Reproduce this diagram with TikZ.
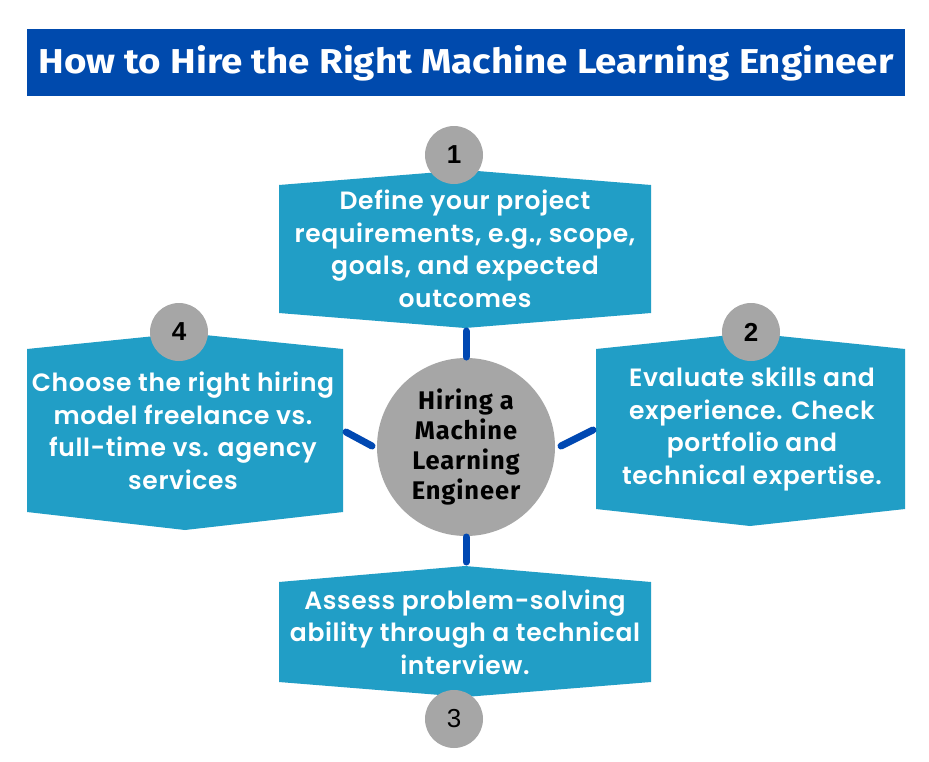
\documentclass[tikz,border=0pt]{standalone}
\usepackage{fontspec}
\setmainfont{Poppins}
\newfontfamily\boxfont{Poppins SemiBold}[LetterSpace=2.5]
\newfontfamily\hubfont{Fira Sans}[LetterSpace=3.5]
\newfontfamily\titlefont{Fira Sans}
\newfontfamily\numfont{Liberation Sans}
\definecolor{titleblue}{RGB}{0,74,173}
\definecolor{boxblue}{RGB}{33,158,198}
\definecolor{disc}{RGB}{166,166,166}
\definecolor{linkblue}{RGB}{0,72,178}
\tikzset{
  boxshape/.style={fill=boxblue},
  boxtext/.style={text=white, align=center, inner sep=0pt,
    font=\boxfont\fontsize{25}{32.5}\selectfont},
  numdisc/.style={circle, fill=disc, minimum size=58pt, inner sep=0pt,
    font=\numfont\fontsize{26}{26}\selectfont\bfseries, text=black},
  hubdisc/.style={circle, fill=disc, minimum size=178pt, inner sep=0pt,
    align=center, font=\hubfont\fontsize{25.5}{30}\selectfont\bfseries, text=black},
  link/.style={draw=linkblue, line width=7pt, line cap=round}
}
\begin{document}
\begin{tikzpicture}[x=1pt,y=-1pt]
\useasboundingbox (0,0) rectangle (929,761);
\fill[white] (0,0) rectangle (929,761);
% title
\fill[titleblue] (27,29) rectangle (905,96);
\node[text=white, inner sep=0pt] (title) at (466,63)
  {\resizebox{855pt}{28pt}{\titlefont\bfseries How to Hire the Right Machine Learning Engineer}};
% boxes
\fill[boxshape] (279,185) -- (465,170) -- (651,185) -- (651,313) -- (465,328) -- (279,313) -- cycle;
\fill[boxshape] (27,349) -- (185,333) -- (343,349) -- (343,512) -- (185,530) -- (27,512) -- cycle;
\fill[boxshape] (596,349) -- (750,333) -- (905,349) -- (905,509) -- (750,526) -- (596,509) -- cycle;
\fill[boxshape] (279,582) -- (465,566) -- (651,582) -- (651,682) -- (465,697) -- (279,682) -- cycle;
\node[boxtext] (t1) at (465,249) {Define your project\\requirements, e.g., scope,\\goals, and expected\\outcomes};
\node[boxtext] (t4) at (183,431) {Choose the right hiring\\model freelance vs.\\full-time vs. agency\\services};
\node[boxtext] (t2) at (752,429) {Evaluate skills and\\experience. Check\\portfolio and\\technical expertise.};
\node[boxtext] (t3) at (465,632) {Assess problem-solving\\ability through a technical\\interview.};
% number discs
\node[numdisc] (n1) at (454,155) {1};
\node[numdisc] (n2) at (751,332) {2};
\node[numdisc] (n3) at (454,719) {\mdseries 3};
\node[numdisc] (n4) at (179,332) {4};
% hub
\node[hubdisc] (hub) at (466,447) {Hiring a\\Machine\\Learning\\Engineer};
% connectors
\coordinate (a1) at (466,331); \coordinate (b1) at (466,357);
\coordinate (a3) at (466,537); \coordinate (b3) at (466,562);
\coordinate (a4) at (346,432); \coordinate (b4) at (372,446);
\coordinate (a2) at (593,430); \coordinate (b2) at (561,446);
\draw[link] (a1) -- (b1);
\draw[link] (a3) -- (b3);
\draw[link] (a4) -- (b4);
\draw[link] (a2) -- (b2);
\end{tikzpicture}
\end{document}
